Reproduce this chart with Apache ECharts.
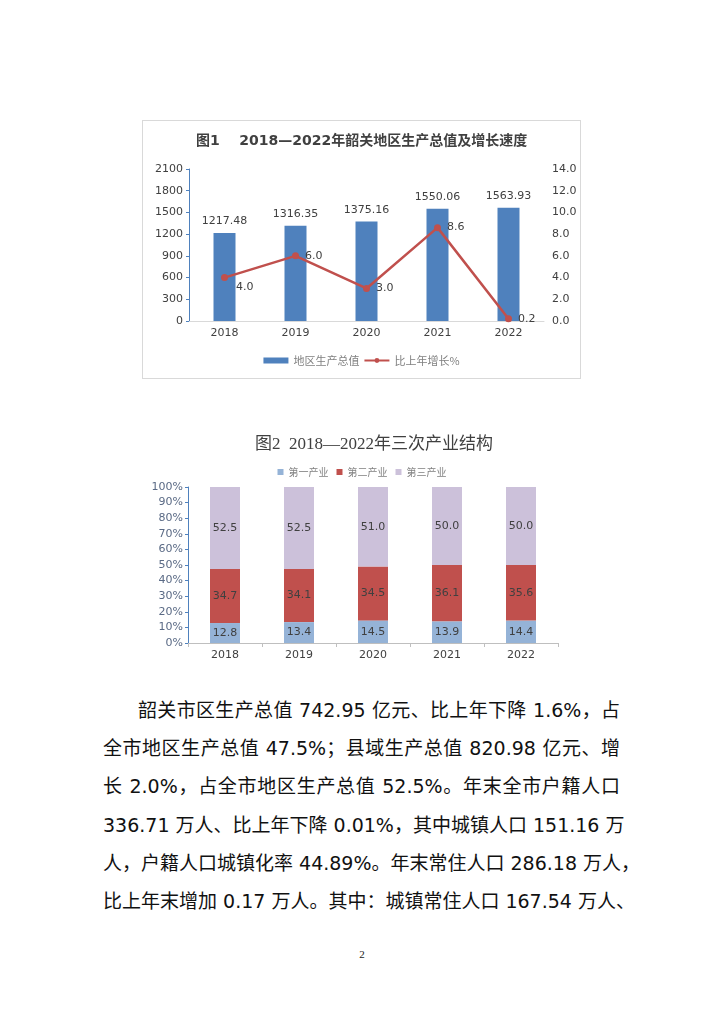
<!DOCTYPE html>
<html>
<head>
<meta charset="utf-8">
<script src="https://cdn.jsdelivr.net/npm/echarts@6/dist/echarts.min.js"></script>
<style>
html,body{margin:0;padding:0;background:#fff;width:724px;height:1024px;overflow:hidden;}
#c1{position:absolute;left:142px;top:120px;width:437px;height:257px;border:1px solid #d9d9d9;}
#c2{position:absolute;left:142px;top:425px;width:440px;height:245px;}
.ln{position:absolute;left:103px;width:517px;height:38px;line-height:38px;font-size:19px;color:#111;
  font-family:"DejaVu Sans","Noto Sans CJK SC",sans-serif;text-align:justify;text-align-last:justify;white-space:nowrap;}
#pg{position:absolute;left:352px;top:948px;width:20px;text-align:center;font-size:11px;font-family:"Liberation Serif",serif;color:#222;}
</style>
</head>
<body>
<div id="c1"></div>
<div id="c2"></div>
<div id="txt"></div>
<div id="pg">2</div>
<script>
var years = ['2018','2019','2020','2021','2022'];
var gdp = [1217.48, 1316.35, 1375.16, 1550.06, 1563.93];
var growth = [4.0, 6.0, 3.0, 8.6, 0.2];
var primary = [12.8, 13.4, 14.5, 13.9, 14.4];
var secondary = [34.7, 34.1, 34.5, 36.1, 35.6];
var tertiary = [52.5, 52.5, 51.0, 50.0, 50.0];
var title1 = '图1    2018—2022年韶关地区生产总值及增长速度';
var title2 = '图2  2018—2022年三次产业结构';
var paraLines = [
  '韶关市区生产总值 742.95 亿元、比上年下降 1.6%，占',
  '全市地区生产总值 47.5%；县域生产总值 820.98 亿元、增',
  '长 2.0%，占全市地区生产总值 52.5%。年末全市户籍人口',
  '336.71 万人、比上年下降 0.01%，其中城镇人口 151.16 万',
  '人，户籍人口城镇化率 44.89%。年末常住人口 286.18 万人，',
  '比上年末增加 0.17 万人。其中：城镇常住人口 167.54 万人、'
];

var txt = document.getElementById('txt');
paraLines.forEach(function(s, i){
  var d = document.createElement('div');
  d.className = 'ln';
  d.style.top = (691 + i*38.2) + 'px';
  if (i === 0) { d.style.left = '138px'; d.style.width = '482px'; }
  d.textContent = s;
  txt.appendChild(d);
});

var sans = '"DejaVu Sans","Noto Sans CJK SC",sans-serif';
var c1 = echarts.init(document.getElementById('c1'));
c1.setOption({
  animation:false,
  title:{text:title1,left:48,top:8,textStyle:{fontSize:14,fontWeight:'bold',color:'#404040',fontFamily:sans}},
  legend:{bottom:7,left:'center',itemGap:4,textStyle:{fontSize:11,color:'#808080',fontFamily:'"Noto Sans CJK SC",sans-serif'},
    data:[{name:'地区生产总值',icon:'rect',itemStyle:{color:'#4F81BD'}},{name:'比上年增长%'}],itemWidth:25,itemHeight:6},
  grid:{left:46,right:36,top:48,bottom:57},
  xAxis:{type:'category',data:years,axisLine:{lineStyle:{color:'#d9d9d9'}},axisTick:{show:false},
    axisLabel:{color:'#404040',fontSize:11,fontFamily:sans,margin:7}},
  yAxis:[
    {type:'value',min:0,max:2100,interval:300,splitLine:{show:false},
      axisLine:{show:true,lineStyle:{color:'#4F81BD'}},axisTick:{show:true,length:3,lineStyle:{color:'#4F81BD'}},
      axisLabel:{color:'#404040',fontSize:11,fontFamily:sans,margin:6,formatter:function(v){return String(v);}}},
    {type:'value',min:0,max:14,interval:2,splitLine:{show:false},axisLine:{show:false},axisTick:{show:false},
      axisLabel:{color:'#404040',fontSize:11,fontFamily:sans,margin:8,formatter:function(v){return v.toFixed(1);}}}
  ],
  series:[
    {name:'地区生产总值',type:'bar',data:gdp,barWidth:22,itemStyle:{color:'#4F81BD'},
      label:{show:true,position:'top',distance:6,color:'#404040',fontSize:11,fontFamily:sans,formatter:function(p){return p.value.toFixed(2);}}},
    {name:'比上年增长%',type:'line',yAxisIndex:1,data:growth.map(function(v,i){
        var o={value:v};
        if(i===0){o.label={offset:[2,10]};}
        return o;}),
      lineStyle:{color:'#C0504D',width:2.5},itemStyle:{color:'#C0504D'},symbol:'circle',symbolSize:7,
      label:{show:true,position:'right',distance:6,color:'#404040',fontSize:11,fontFamily:sans,formatter:function(p){return p.value.toFixed(1);}}}
  ]
});

var serif = '"Liberation Serif","Noto Sans CJK SC",serif';
var c2 = echarts.init(document.getElementById('c2'));
var lbl = {show:true,position:'inside',color:'#404040',fontSize:11,fontFamily:sans,formatter:function(p){return p.value.toFixed(1);}};
c2.setOption({
  animation:false,
  title:{text:title2,left:108,top:6,textStyle:{fontSize:17,fontWeight:'normal',color:'#404040',fontFamily:serif}},
  legend:{top:37,left:'center',itemWidth:6,itemHeight:6,itemGap:8,icon:'rect',
    textStyle:{fontSize:10,color:'#808080',fontFamily:'"Noto Sans CJK SC",sans-serif'}},
  grid:{left:46,right:24,top:62,bottom:27},
  xAxis:{type:'category',data:years,axisLine:{lineStyle:{color:'#bfbfbf'}},axisTick:{show:true,length:4,lineStyle:{color:'#bfbfbf'}},
    axisLabel:{color:'#404040',fontSize:11,fontFamily:sans,margin:7}},
  yAxis:{type:'value',min:0,max:100,interval:10,splitLine:{show:false},
    axisLine:{show:true,lineStyle:{color:'#4F81BD'}},axisTick:{show:true,length:3,lineStyle:{color:'#4F81BD'}},
    axisLabel:{color:'#5a6a85',fontSize:11,fontFamily:sans,margin:5,formatter:'{value}%'}},
  series:[
    {name:'第一产业',type:'bar',stack:'s',barWidth:30,data:primary,itemStyle:{color:'#95B3D7'},label:lbl},
    {name:'第二产业',type:'bar',stack:'s',barWidth:30,data:secondary,itemStyle:{color:'#C0504D'},label:lbl},
    {name:'第三产业',type:'bar',stack:'s',barWidth:30,data:tertiary,itemStyle:{color:'#CCC1DA'},label:lbl}
  ]
});
</script>
</body>
</html>
